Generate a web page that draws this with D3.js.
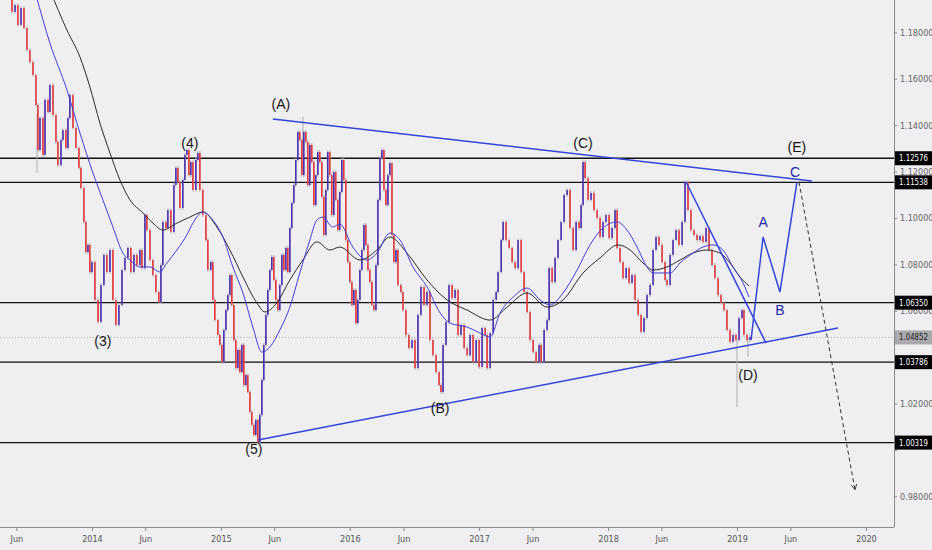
<!DOCTYPE html>
<html>
<head>
<meta charset="utf-8">
<script src="https://cdn.jsdelivr.net/npm/d3@7"></script>
<style>
body { margin: 0; background: #efeef0; }
svg { display: block; font-family: "Liberation Sans", Arial, sans-serif; }
</style>
</head>
<body>
<div id="chart"></div>
<script>
// closes: [decimal year, price]
const closes = [
  [2013.349,1.1940],[2013.380,1.1888],[2013.403,1.1918],[2013.426,1.1832],[2013.450,1.1905],[2013.473,1.1819],
  [2013.496,1.1724],[2013.519,1.1672],[2013.543,1.1616],[2013.566,1.1487],[2013.581,1.1293],[2013.597,1.1431],
  [2013.620,1.1272],[2013.636,1.1509],[2013.659,1.1457],[2013.674,1.1573],[2013.698,1.1444],[2013.721,1.1328],
  [2013.736,1.1228],[2013.760,1.1336],[2013.775,1.1379],[2013.798,1.1302],[2013.814,1.1431],[2013.829,1.1530],
  [2013.853,1.1388],[2013.876,1.1302],[2013.899,1.1216],[2013.915,1.1129],[2013.938,1.0983],[2013.953,1.0853],
  [2013.969,1.0884],[2013.984,1.0767],[2014.000,1.0810],[2014.023,1.0647],[2014.047,1.0552],[2014.070,1.0711],
  [2014.093,1.0841],[2014.116,1.0767],[2014.140,1.0862],[2014.163,1.0647],[2014.186,1.0539],[2014.209,1.0625],
  [2014.233,1.0776],[2014.256,1.0828],[2014.279,1.0871],[2014.302,1.0767],[2014.326,1.0841],[2014.349,1.0797],
  [2014.372,1.0862],[2014.388,1.0784],[2014.411,1.1013],[2014.426,1.0948],[2014.450,1.0819],[2014.473,1.0754],
  [2014.496,1.0681],[2014.519,1.0638],[2014.535,1.0797],[2014.550,1.0983],[2014.574,1.0957],[2014.589,1.1034],
  [2014.612,1.0940],[2014.636,1.1142],[2014.651,1.1216],[2014.667,1.1155],[2014.682,1.1043],[2014.705,1.1164],
  [2014.721,1.1272],[2014.736,1.1293],[2014.752,1.1185],[2014.767,1.1241],[2014.783,1.1121],[2014.806,1.1250],
  [2014.822,1.1280],[2014.837,1.1121],[2014.860,1.1013],[2014.884,1.0905],[2014.899,1.0776],[2014.922,1.0810],
  [2014.938,1.0647],[2014.953,1.0560],[2014.977,1.0496],[2014.992,1.0453],[2015.008,1.0379],[2015.023,1.0517],
  [2015.039,1.0603],[2015.054,1.0668],[2015.070,1.0754],[2015.085,1.0625],[2015.101,1.0474],[2015.116,1.0353],
  [2015.132,1.0431],[2015.147,1.0336],[2015.163,1.0453],[2015.178,1.0280],[2015.194,1.0323],[2015.209,1.0250],
  [2015.225,1.0164],[2015.240,1.0108],[2015.256,1.0065],[2015.271,1.0129],[2015.287,1.0034],[2015.302,1.0151],
  [2015.318,1.0302],[2015.333,1.0453],[2015.349,1.0582],[2015.364,1.0690],[2015.380,1.0776],[2015.395,1.0832],
  [2015.411,1.0733],[2015.426,1.0647],[2015.442,1.0603],[2015.457,1.0711],[2015.473,1.0841],[2015.488,1.0776],
  [2015.504,1.0871],[2015.519,1.0767],[2015.535,1.0957],[2015.550,1.1065],[2015.566,1.1142],[2015.581,1.1250],
  [2015.597,1.1371],[2015.612,1.1336],[2015.628,1.1185],[2015.643,1.1371],[2015.659,1.1328],[2015.674,1.1142],
  [2015.690,1.1315],[2015.705,1.1241],[2015.721,1.1056],[2015.736,1.1185],[2015.752,1.1284],[2015.767,1.1241],
  [2015.783,1.1091],[2015.798,1.0927],[2015.814,1.1121],[2015.829,1.1284],[2015.845,1.1185],[2015.860,1.1013],
  [2015.876,1.1198],[2015.891,1.1078],[2015.907,1.0948],[2015.922,1.1112],[2015.938,1.1250],[2015.953,1.1164],
  [2015.969,1.0905],[2015.984,1.0810],[2016.000,1.0724],[2016.016,1.0625],[2016.031,1.0690],[2016.047,1.0547],
  [2016.062,1.0647],[2016.078,1.0776],[2016.093,1.0862],[2016.109,1.0970],[2016.124,1.0884],[2016.140,1.0776],
  [2016.155,1.0724],[2016.171,1.0625],[2016.186,1.0603],[2016.202,1.0797],[2016.217,1.1078],[2016.233,1.1259],
  [2016.248,1.1293],[2016.264,1.1121],[2016.279,1.1056],[2016.295,1.1185],[2016.310,1.1237],[2016.326,1.0927],
  [2016.341,1.0810],[2016.357,1.0862],[2016.372,1.0711],[2016.395,1.0681],[2016.411,1.0603],[2016.434,1.0496],
  [2016.457,1.0440],[2016.481,1.0474],[2016.504,1.0353],[2016.527,1.0582],[2016.550,1.0703],[2016.574,1.0625],
  [2016.597,1.0681],[2016.620,1.0474],[2016.643,1.0409],[2016.667,1.0336],[2016.690,1.0280],[2016.705,1.0250],
  [2016.721,1.0453],[2016.744,1.0552],[2016.767,1.0711],[2016.791,1.0655],[2016.814,1.0690],[2016.837,1.0496],
  [2016.860,1.0539],[2016.884,1.0440],[2016.907,1.0409],[2016.930,1.0496],[2016.953,1.0379],[2016.977,1.0474],
  [2017.000,1.0358],[2017.023,1.0526],[2017.047,1.0496],[2017.062,1.0353],[2017.085,1.0504],[2017.109,1.0647],
  [2017.132,1.0681],[2017.147,1.0767],[2017.171,1.0905],[2017.186,1.0983],[2017.209,1.0905],[2017.233,1.0871],
  [2017.256,1.0810],[2017.279,1.0784],[2017.302,1.0905],[2017.326,1.0767],[2017.349,1.0681],[2017.372,1.0595],
  [2017.395,1.0474],[2017.419,1.0422],[2017.442,1.0379],[2017.465,1.0453],[2017.481,1.0379],[2017.504,1.0517],
  [2017.527,1.0560],[2017.543,1.0784],[2017.566,1.0724],[2017.589,1.0828],[2017.612,1.0905],[2017.636,1.0983],
  [2017.659,1.1099],[2017.682,1.1121],[2017.705,1.0957],[2017.729,1.0862],[2017.752,1.0983],[2017.775,1.0957],
  [2017.791,1.1056],[2017.806,1.1241],[2017.822,1.1172],[2017.845,1.1078],[2017.868,1.1108],[2017.891,1.1034],
  [2017.915,1.1000],[2017.938,1.0918],[2017.961,1.0983],[2017.984,1.1013],[2018.008,1.0914],[2018.031,1.0957],
  [2018.054,1.1034],[2018.070,1.0871],[2018.093,1.0810],[2018.116,1.0741],[2018.140,1.0784],[2018.163,1.0720],
  [2018.186,1.0754],[2018.209,1.0647],[2018.233,1.0582],[2018.256,1.0509],[2018.279,1.0569],[2018.302,1.0668],
  [2018.326,1.0711],[2018.349,1.0862],[2018.372,1.0918],[2018.395,1.0884],[2018.419,1.0810],[2018.442,1.0733],
  [2018.457,1.0711],[2018.481,1.0841],[2018.504,1.0905],[2018.527,1.0948],[2018.550,1.0884],[2018.574,1.0983],
  [2018.597,1.1155],[2018.620,1.1034],[2018.643,1.0948],[2018.667,1.0927],[2018.690,1.0905],[2018.713,1.0922],
  [2018.736,1.0897],[2018.760,1.0957],[2018.783,1.0862],[2018.806,1.0797],[2018.829,1.0741],[2018.853,1.0668],
  [2018.876,1.0634],[2018.899,1.0603],[2018.922,1.0517],[2018.946,1.0466],[2018.969,1.0496],[2018.992,1.0474],
  [2019.016,1.0569],[2019.039,1.0603],[2019.054,1.0496],[2019.078,1.0474],[2019.101,1.0487]
];

const maBlue = [
  [2013.566,1.1961],[2013.674,1.1754],[2013.806,1.1552],[2013.907,1.1366],[2014.008,1.1194],[2014.085,1.1078],
  [2014.163,1.0961],[2014.240,1.0849],[2014.295,1.0819],[2014.372,1.0789],[2014.450,1.0789],[2014.527,1.0767],
  [2014.581,1.0806],[2014.659,1.0862],[2014.736,1.0927],[2014.783,1.0978],[2014.860,1.1026],[2014.938,1.0991],
  [2015.016,1.0918],[2015.093,1.0789],[2015.171,1.0677],[2015.248,1.0530],[2015.318,1.0422],[2015.380,1.0444],
  [2015.457,1.0517],[2015.535,1.0616],[2015.612,1.0763],[2015.690,1.0905],[2015.744,1.0991],[2015.791,1.1004],
  [2015.868,1.0961],[2015.922,1.0974],[2016.023,1.0875],[2016.132,1.0819],[2016.209,1.0849],[2016.310,1.0935],
  [2016.388,1.0905],[2016.488,1.0789],[2016.597,1.0703],[2016.698,1.0591],[2016.775,1.0547],[2016.907,1.0530],
  [2017.008,1.0504],[2017.085,1.0487],[2017.163,1.0591],[2017.264,1.0659],[2017.372,1.0698],[2017.473,1.0647],
  [2017.550,1.0625],[2017.651,1.0677],[2017.760,1.0776],[2017.860,1.0884],[2017.961,1.0957],[2018.070,1.0983],
  [2018.147,1.0948],[2018.225,1.0875],[2018.302,1.0789],[2018.349,1.0763],[2018.481,1.0763],[2018.558,1.0806],
  [2018.659,1.0849],[2018.736,1.0875],[2018.814,1.0884],[2018.891,1.0862],[2018.969,1.0789],[2019.047,1.0720],
  [2019.093,1.0659]
];

const maBlack = [
  [2013.674,1.1983],[2013.806,1.1810],[2013.907,1.1694],[2013.984,1.1565],[2014.062,1.1409],[2014.140,1.1280],
  [2014.217,1.1164],[2014.295,1.1078],[2014.395,1.1022],[2014.473,1.0978],[2014.550,1.0948],[2014.659,1.0978],
  [2014.760,1.1004],[2014.860,1.1026],[2014.969,1.0961],[2015.070,1.0862],[2015.171,1.0746],[2015.279,1.0634],
  [2015.341,1.0595],[2015.434,1.0634],[2015.535,1.0733],[2015.636,1.0819],[2015.744,1.0897],[2015.845,1.0862],
  [2015.922,1.0875],[2016.078,1.0819],[2016.209,1.0862],[2016.310,1.0918],[2016.442,1.0849],[2016.597,1.0733],
  [2016.752,1.0647],[2016.907,1.0603],[2017.085,1.0560],[2017.217,1.0616],[2017.372,1.0677],[2017.527,1.0616],
  [2017.651,1.0647],[2017.806,1.0763],[2017.938,1.0828],[2018.078,1.0884],[2018.171,1.0862],[2018.271,1.0806],
  [2018.349,1.0776],[2018.457,1.0789],[2018.558,1.0819],[2018.659,1.0849],[2018.767,1.0862],[2018.868,1.0849],
  [2018.946,1.0806],[2019.023,1.0746],[2019.093,1.0707]
];

// long shadows: [decimal year, low, high]
const wicks = [
  [2013.574,1.1194,1.1450],[2015.636,1.1200,1.1436],[2019.000,1.0185,1.0480],[2019.085,1.0401,1.0480]
];

const levels = [1.12576, 1.11538, 1.06350, 1.03786, 1.00319];
const lastPrice = 1.04852;
const priceTicks = [0.98, 1.00, 1.02, 1.04, 1.06, 1.08, 1.10, 1.12, 1.14, 1.16, 1.18];
// tick labels that sit fully behind a price tag
const hiddenTicks = [1.00, 1.04];

const upperLine = [[2015.403,1.1427],[2019.581,1.1159]];
const lowerLine = [[2015.287,1.0043],[2019.783,1.0526]];
const wedgeLine = [[2018.605,1.1155],[2019.225,1.0461]];
const projection = [[2019.109,1.0474],[2019.202,1.0918],[2019.333,1.0681],[2019.465,1.1155]];
const dashedPath = [[2019.481,1.1155],[2019.915,0.9828]];

const waveLabels = [
  ["(3)",2014.085,1.0470],["(4)",2014.760,1.1323],["(5)",2015.256,1.0004],["(A)",2015.465,1.1491],
  ["(B)",2016.698,1.0181],["(C)",2017.806,1.1323],["(D)",2019.085,1.0323],["(E)",2019.465,1.1306]
];
const abcLabels = [["A",2019.202,1.0983],["B",2019.333,1.0603],["C",2019.450,1.1198]];

function toDate(t) {
  var yr = Math.floor(t);
  var a = Date.UTC(yr, 0, 1), b = Date.UTC(yr + 1, 0, 1);
  return new Date(a + (t - yr) * (b - a));
}

var W = 932, H = 550, plotW = 894, plotH = 527;
var axisFont = "'DejaVu Sans Condensed', 'Liberation Sans Narrow', 'Liberation Sans', sans-serif";

var svg = d3.select("#chart").append("svg")
  .attr("width", W).attr("height", H)
  .style("background", "#efeef0");

var x = d3.scaleUtc().domain([toDate(2013.287), toDate(2020.217)]).range([0, plotW]);
var y = d3.scaleLinear().domain([1.0, 1.18]).range([450, 32.4]);

var defs = svg.append("defs");
defs.append("clipPath").attr("id", "clip")
  .append("rect").attr("width", plotW).attr("height", plotH);
defs.append("marker").attr("id", "arrow")
  .attr("viewBox", "0 0 10 10").attr("refX", 9).attr("refY", 5)
  .attr("markerWidth", 7).attr("markerHeight", 7).attr("orient", "auto")
  .append("path").attr("d", "M1,1 L9,5 L1,9").attr("fill", "none")
  .attr("stroke", "#333").attr("stroke-width", 1.2);

var plot = svg.append("g").attr("clip-path", "url(#clip)");

// horizontal levels
plot.selectAll(".level").data(levels).enter().append("line")
  .attr("x1", 0).attr("x2", plotW)
  .attr("y1", function(d) { return y(d) }).attr("y2", function(d) { return y(d) })
  .attr("stroke", "#111").attr("stroke-width", 1.3);

plot.append("line")
  .attr("x1", 0).attr("x2", plotW).attr("y1", y(lastPrice)).attr("y2", y(lastPrice))
  .attr("stroke", "#999").attr("stroke-width", 0.8).attr("stroke-dasharray", "1,2");

// candles built from consecutive closes
var bars = [];
for (var i = 1; i < closes.length; i++) {
  bars.push({t: closes[i][0], open: closes[i - 1][1], close: closes[i][1]});
}

plot.selectAll(".shadow").data(bars).enter().append("line")
  .attr("x1", function(d) { return x(toDate(d.t)) })
  .attr("x2", function(d) { return x(toDate(d.t)) })
  .attr("y1", function(d) { return y(Math.max(d.open, d.close)) - 2 })
  .attr("y2", function(d) { return y(Math.min(d.open, d.close)) + 2 })
  .attr("stroke", "#b8b6bb").attr("stroke-width", 1);

plot.selectAll(".wick").data(wicks).enter().append("line")
  .attr("x1", function(d) { return x(toDate(d[0])) })
  .attr("x2", function(d) { return x(toDate(d[0])) })
  .attr("y1", function(d) { return y(d[2]) })
  .attr("y2", function(d) { return y(d[1]) })
  .attr("stroke", "#b0aeb3").attr("stroke-width", 1);

plot.selectAll(".bar").data(bars).enter().append("rect")
  .attr("x", function(d) { return x(toDate(d.t)) - 0.8 })
  .attr("width", 1.6)
  .attr("y", function(d) { return y(Math.max(d.open, d.close)) })
  .attr("height", function(d) { return Math.max(1, Math.abs(y(d.open) - y(d.close))) })
  .attr("fill", function(d) { return d.close < d.open ? "#e4393a" : "#4a2fae" });

var line = d3.line()
  .x(function(d) { return x(toDate(d[0])) })
  .y(function(d) { return y(d[1]) });
var smooth = d3.line().curve(d3.curveMonotoneX)
  .x(function(d) { return x(toDate(d[0])) })
  .y(function(d) { return y(d[1]) });

plot.append("path").datum(maBlack).attr("d", smooth)
  .attr("fill", "none").attr("stroke", "#2a2a2a").attr("stroke-width", 1);
plot.append("path").datum(maBlue).attr("d", smooth)
  .attr("fill", "none").attr("stroke", "#3f3fd6").attr("stroke-width", 1);

[upperLine, lowerLine, wedgeLine, projection].forEach(function(pts) {
  plot.append("path").datum(pts).attr("d", line)
    .attr("fill", "none").attr("stroke", "#3545d8").attr("stroke-width", 1.5);
});

plot.append("path").datum(dashedPath).attr("d", line)
  .attr("fill", "none").attr("stroke", "#333").attr("stroke-width", 1)
  .attr("stroke-dasharray", "4,3").attr("marker-end", "url(#arrow)");

plot.selectAll(".wave").data(waveLabels).enter().append("text")
  .attr("x", function(d) { return x(toDate(d[1])) })
  .attr("y", function(d) { return y(d[2]) })
  .attr("text-anchor", "middle").attr("dominant-baseline", "central")
  .attr("font-size", 14).attr("fill", "#151515")
  .text(function(d) { return d[0] });

plot.selectAll(".abc").data(abcLabels).enter().append("text")
  .attr("x", function(d) { return x(toDate(d[1])) })
  .attr("y", function(d) { return y(d[2]) })
  .attr("text-anchor", "middle").attr("dominant-baseline", "central")
  .attr("font-size", 14).attr("fill", "#2626a8")
  .text(function(d) { return d[0] });

// x axis
var xTicks = [];
for (var yr = 2013; yr <= 2020; yr++) {
  if (yr > 2013) xTicks.push(new Date(Date.UTC(yr, 0, 1)));
  if (yr < 2020) xTicks.push(new Date(Date.UTC(yr, 5, 1)));
}
var xAxis = svg.append("g").attr("transform", "translate(0," + plotH + ")")
  .call(d3.axisBottom(x).tickValues(xTicks).tickSize(4).tickPadding(5)
    .tickFormat(function(d) { return d.getUTCMonth() === 0 ? d.getUTCFullYear() : "Jun" }));
xAxis.select(".domain").attr("stroke", "#8a8a8a").attr("d", "M0,0.5H" + plotW);
xAxis.selectAll(".tick line").attr("stroke", "#8a8a8a");
xAxis.selectAll("text").attr("font-size", 9).attr("fill", "#555").attr("font-family", axisFont);

// y axis
var yAxis = svg.append("g").attr("transform", "translate(" + plotW + ",0)")
  .call(d3.axisRight(y).tickValues(priceTicks).tickSize(3).tickPadding(3)
    .tickFormat(function(d) { return hiddenTicks.indexOf(d) >= 0 ? "" : d3.format(".5f")(d) }));
yAxis.select(".domain").attr("stroke", "#8a8a8a").attr("d", "M0.5,0V" + plotH);
yAxis.selectAll(".tick line").attr("stroke", "#8a8a8a");
yAxis.selectAll("text").attr("font-size", 9).attr("fill", "#666").attr("font-family", axisFont);

// price labels on the axis
var tags = levels.map(function(v) { return {v: v, bg: "#000", fg: "#fff"} });
tags.push({v: lastPrice, bg: "#a9a8ab", fg: "#222"});
var tag = svg.selectAll(".tag").data(tags).enter().append("g")
  .attr("transform", function(d) { return "translate(" + (plotW + 1) + "," + y(d.v) + ")" });
tag.append("rect").attr("x", 0).attr("y", -7).attr("width", W - plotW - 1).attr("height", 14)
  .attr("fill", function(d) { return d.bg });
tag.append("text").attr("x", 4).attr("y", 0).attr("dominant-baseline", "central")
  .attr("font-size", 9).attr("font-family", axisFont)
  .attr("textLength", 29).attr("lengthAdjust", "spacingAndGlyphs")
  .attr("fill", function(d) { return d.fg })
  .text(function(d) { return d3.format(".5f")(d.v) });
</script>
</body>
</html>
